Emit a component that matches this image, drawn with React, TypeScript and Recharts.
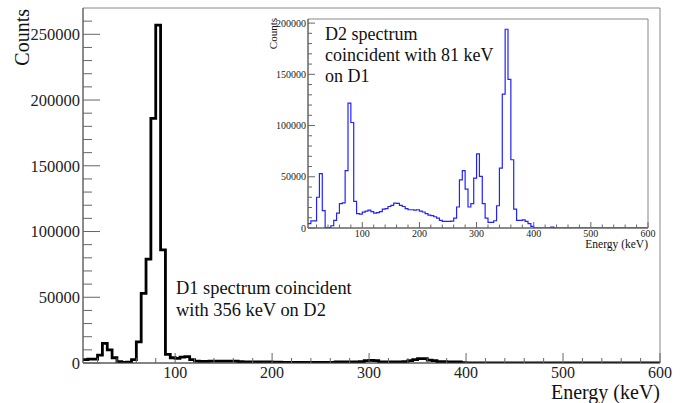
import React from 'react';
import { LineChart, Line, XAxis, YAxis, ReferenceArea } from 'recharts';

// histogram binning (keV)
const E_MIN = 5;
const E_MAX = 600;
const BIN_W = 5;

// D1 spectrum, gated on 356 keV in D2 (counts per bin, bins start at 5 keV)
const d1Counts = [
  2500, 3000, 3000, 6000, 15000, 10000, 4000, 1000, 500, 700,
  2500, 16000, 53000, 79000, 186000, 257000, 86000, 6500, 4000, 3500,
  4500, 4800, 2500, 1500, 1200, 1200, 1500, 1500, 1500, 1500,
  1500, 1500, 1000, 900, 900, 800, 800, 800, 800, 600,
  600, 500, 500, 500, 500, 500, 500, 500, 500, 500,
  500, 500, 800, 800, 800, 900, 900, 1000, 1800, 2000,
  1800, 900, 800, 800, 800, 900, 1000, 1800, 2500, 3300,
  3300, 2200, 1800, 1000, 1000, 900, 900, 800, 300, 0,
  0, 0, 0, 0, 0, 0, 0, 0, 0, 0,
  0, 0, 0, 0, 0, 0, 0, 0, 0, 0,
  0, 0, 0, 0, 0, 0, 0, 0, 0, 0,
  0, 0, 0, 0, 0, 0, 0, 0, 0,
];

// D2 spectrum, gated on 81 keV in D1
const d2Counts = [
  4200, 7000, 7000, 30000, 53000, 17000, 500, 500, 2200, 7400,
  14600, 23700, 24500, 56000, 121800, 103000, 26000, 14000, 13500, 15500,
  16500, 17500, 16000, 14600, 15000, 16000, 18500, 19000, 21000, 22000,
  24300, 24000, 22000, 21000, 19000, 17800, 17800, 17500, 17800, 16500,
  15600, 14000, 12500, 12000, 11000, 9700, 7400, 6400, 6400, 6400,
  6800, 9700, 20500, 47000, 56000, 38000, 20500, 23700, 48700, 72400,
  50300, 23700, 9700, 5500, 5500, 7100, 21700, 58500, 130600, 194000,
  145000, 66600, 18500, 7400, 7400, 8000, 6400, 4200, 1500, 0,
  0, 0, 0, 0, 0, 800, 0, 0, 0, 0,
  0, 0, 0, 0, 0, 0, 0, 0, 0, 0,
  0, 0, 0, 0, 0, 0, 0, 0, 0, 0,
  0, 0, 0, 0, 0, 0, 0, 0, 0,
];

const xMajorTicks = [100, 200, 300, 400, 500, 600];
const mainYMajor = [0, 50000, 100000, 150000, 200000, 250000];
const insetYMajor = [0, 50000, 100000, 150000, 200000];

const FONT = '"Liberation Serif", "Times New Roman", serif';

// step histogram: one point per bin low edge, plus closing edge
const toHist = (counts: number[]) => {
  const pts = counts.map((c, i) => ({ e: E_MIN + i * BIN_W, c }));
  pts.push({ e: E_MAX, c: counts[counts.length - 1] });
  return pts;
};

const withMinors = (max: number, step: number) => {
  const out: number[] = [];
  for (let v = 0; v <= max; v += step) out.push(v);
  return out;
};

const makeYTick = (majors: number[], majLen: number, minLen: number, fs: number, gap: number) =>
  (props: any) => {
    const { x, y, payload } = props;
    const v = payload.value;
    const major = majors.includes(v);
    return (
      <g>
        <line x1={x} x2={x + (major ? majLen : minLen)} y1={y} y2={y} stroke="#666" strokeWidth={1} />
        {major && (
          <text x={x - gap} y={y + fs * 0.35} textAnchor="end" fontSize={fs} fill="#222" fontFamily={FONT}>
            {v}
          </text>
        )}
      </g>
    );
  };

const makeXTick = (majLen: number, minLen: number, fs: number, dy: number) =>
  (props: any) => {
    const { x, y, payload } = props;
    const v = payload.value;
    const major = xMajorTicks.includes(v);
    return (
      <g>
        <line x1={x} x2={x} y1={y} y2={y - (major ? majLen : minLen)} stroke="#666" strokeWidth={1} />
        {major && (
          <text x={x} y={y + dy} textAnchor="middle" fontSize={fs} fill="#222" fontFamily={FONT}>
            {v}
          </text>
        )}
      </g>
    );
  };

const xTicks = withMinors(600, 20).filter((v) => v >= 20);

const MainYTick = makeYTick(mainYMajor, 17, 9, 16.5, 3);
const MainXTick = makeXTick(10, 5, 16, 15);
const InsetYTick = makeYTick(insetYMajor, 7, 4, 10, 2);
const InsetXTick = makeXTick(6, 3.5, 10, 9);

export default function App() {
  const d1 = toHist(d1Counts);
  const d2 = toHist(d2Counts);
  return (
    <div style={{ position: 'fixed', left: 0, top: 0, width: 688, height: 403, background: '#fff' }}>
      <div style={{ position: 'absolute', left: 0, top: 0 }}>
        <LineChart width={688} height={403} data={d1} margin={{ top: 8, right: 28, bottom: 39, left: 82 }}>
          <ReferenceArea x1={E_MIN} x2={E_MAX} y1={0} y2={270000} fill="none" stroke="#888" strokeWidth={1} />
          <XAxis
            dataKey="e"
            type="number"
            domain={[E_MIN, E_MAX]}
            allowDataOverflow
            ticks={xTicks}
            interval={0}
            height={1}
            tickSize={0}
            tickMargin={0}
            tickLine={false}
            tick={MainXTick}
            axisLine={{ stroke: '#444' }}
          />
          <YAxis
            type="number"
            domain={[0, 270000]}
            allowDataOverflow
            ticks={withMinors(260000, 10000)}
            interval={0}
            width={1}
            tickSize={0}
            tickMargin={0}
            tickLine={false}
            tick={MainYTick}
            axisLine={{ stroke: '#555' }}
          />
          <Line type="stepAfter" dataKey="c" stroke="#000" strokeWidth={2.8} dot={false} isAnimationActive={false} />
        </LineChart>
      </div>
      <div style={{ position: 'absolute', left: 250, top: 8 }}>
        <LineChart width={410} height={250} data={d2} margin={{ top: 11, right: 12, bottom: 29, left: 57 }}>
          <ReferenceArea x1={E_MIN} x2={E_MAX} y1={0} y2={204000} fill="none" stroke="#888" strokeWidth={1} />
          <XAxis
            dataKey="e"
            type="number"
            domain={[E_MIN, E_MAX]}
            allowDataOverflow
            ticks={xTicks}
            interval={0}
            height={1}
            tickSize={0}
            tickMargin={0}
            tickLine={false}
            tick={InsetXTick}
            axisLine={{ stroke: '#555' }}
          />
          <YAxis
            type="number"
            domain={[0, 204000]}
            allowDataOverflow
            ticks={withMinors(200000, 10000)}
            interval={0}
            width={1}
            tickSize={0}
            tickMargin={0}
            tickLine={false}
            tick={InsetYTick}
            axisLine={{ stroke: '#555' }}
          />
          <Line type="stepAfter" dataKey="c" stroke="#2222ff" strokeWidth={1.2} dot={false} isAnimationActive={false} />
        </LineChart>
      </div>
      <svg width={688} height={403} style={{ position: 'absolute', left: 0, top: 0, pointerEvents: 'none' }}>
        <g fontFamily={FONT} fill="#111">
          <text transform="translate(29,9) rotate(-90)" textAnchor="end" fontSize={20}>Counts</text>
          <text x={660} y={399} textAnchor="end" fontSize={20}>Energy (keV)</text>
          <text x={176} y={294} fontSize={18.4}>D1 spectrum coincident</text>
          <text x={176} y={316} fontSize={18.4}>with 356 keV on D2</text>
          <text transform="translate(277,18) rotate(-90)" textAnchor="end" fontSize={11}>Counts</text>
          <text x={648} y={248} textAnchor="end" fontSize={11.5}>Energy (keV)</text>
          <text x={325} y={40} fontSize={18}>D2 spectrum</text>
          <text x={325} y={61} fontSize={18}>coincident with 81 keV</text>
          <text x={325} y={82} fontSize={18}>on D1</text>
        </g>
      </svg>
    </div>
  );
}
